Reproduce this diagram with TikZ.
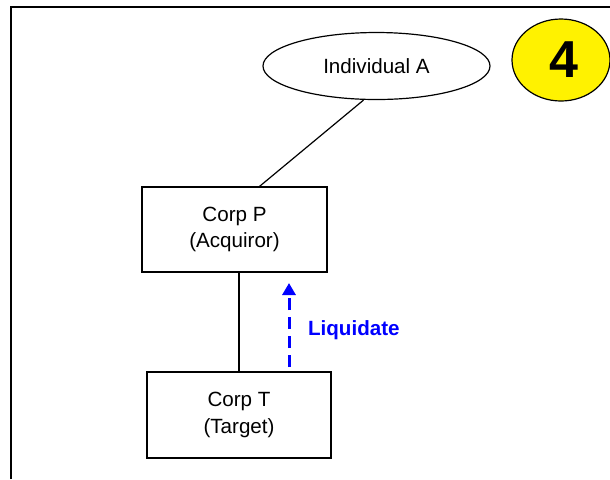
\documentclass[tikz,border=0pt]{standalone}
\usepackage{fontspec}
\setmainfont{Liberation Sans}
\usetikzlibrary{shapes.geometric,arrows.meta}
\begin{document}
\begin{tikzpicture}[x=0.5pt,y=-0.5pt,
  boxnode/.style={draw,line width=0.6pt,rectangle,inner sep=0pt,align=center,font=\fontsize{10.3}{13.2}\selectfont},
  ovalnode/.style={draw,line width=0.6pt,ellipse,inner sep=0pt,font=\fontsize{10.3}{13.2}\selectfont},
  link/.style={line width=0.6pt},
  frameline/.style={line width=1.1pt}]
\useasboundingbox (0,0) rectangle (610,479);
\draw[frameline] (11,479) -- (11,7) -- (610,7);
\node[ovalnode,minimum width=113.5pt,minimum height=33.5pt] (A) at (376.5,66) {Individual A};
\node[draw,line width=0.6pt,ellipse,fill=yellow,inner sep=0pt,minimum width=49pt,minimum height=41pt,font=\fontsize{26}{28}\selectfont\bfseries] (four) at (561,60) {\hspace{3pt}\raisebox{-3.5pt}{4}};
\node[boxnode,minimum width=92.5pt,minimum height=42.5pt] (P) at (234.5,229.5) {Corp P\\(Acquiror)};
\node[boxnode,minimum width=92pt,minimum height=43pt] (T) at (239,415) {Corp T\\(Target)};
\coordinate (as) at ([xshift=-6.5pt]A.south);
\coordinate (pn) at ([xshift=12.5pt]P.north);
\draw[link] (as) -- (pn);
\draw[link] (P.south -| 239,0) -- (T.north -| 239,0);
\coordinate (lb) at (289,367);
\coordinate (lt) at (289,283);
\draw[blue,line width=1.5pt,dash pattern=on 6pt off 3.5pt,-{Triangle[length=6pt,width=6.5pt]}] (lb) -- (lt);
\node[blue,font=\fontsize{10.3}{12}\selectfont\bfseries,anchor=west] (liq) at (301,330) {Liquidate};
\end{tikzpicture}
\end{document}
